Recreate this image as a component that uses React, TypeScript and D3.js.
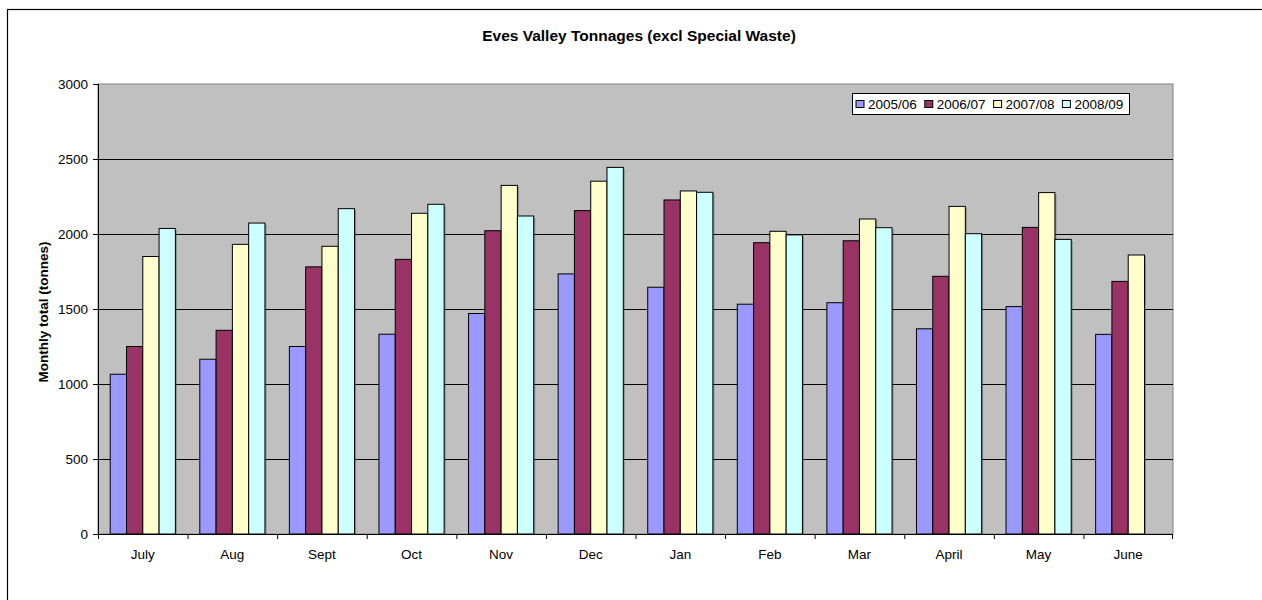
import React from 'react';
import * as d3 from 'd3';

const months = ['July', 'Aug', 'Sept', 'Oct', 'Nov', 'Dec', 'Jan', 'Feb', 'Mar', 'April', 'May', 'June'];
const seasons = ['2005/06', '2006/07', '2007/08', '2008/09'];
const colors = ['#9999FF', '#993366', '#FFFFCC', '#CCFFFF'];

const y0506 = [1065, 1165, 1250, 1332, 1470, 1734, 1645, 1532, 1542, 1368, 1516, 1331];
const y0607 = [1250, 1358, 1781, 1831, 2022, 2156, 2227, 1942, 1955, 1718, 2044, 1684];
const y0708 = [1850, 1931, 1918, 2138, 2324, 2352, 2287, 2018, 2100, 2184, 2276, 1860];
const y0809 = [2037, 2073, 2169, 2198, 2120, 2444, 2278, 1994, 2042, 2002, 1964, null];

const series = [y0506, y0607, y0708, y0809];
const yTicks = [0, 500, 1000, 1500, 2000, 2500, 3000];

const font = 'Arial, "Liberation Sans", sans-serif';

export default function App() {
  const W = 1262;
  const H = 600;
  const plot = { left: 98, right: 1173, top: 84, bottom: 534 };

  const x = d3.scaleBand<string>().domain(months).range([plot.left, plot.right]).paddingInner(0).paddingOuter(0);
  const step = x.bandwidth();
  const barW = step / 5.5;
  const groupOffset = (step - barW * 4) / 2;
  const y = d3.scaleLinear().domain([0, 3000]).range([plot.bottom, plot.top]);

  const legend = { x: 852, y: 93, w: 277, h: 21 };

  return (
    <svg width={W} height={H} style={{ position: 'absolute', left: 0, top: 0 }} fontFamily={font}>
      <rect x={0} y={0} width={W} height={H} fill="#fff" />
      <rect x={7.5} y={9.5} width={W + 10} height={H + 10} fill="none" stroke="#000" strokeWidth={1.2} />

      <text x={639} y={41} textAnchor="middle" fontSize={15.5} fontWeight="bold">
        Eves Valley Tonnages (excl Special Waste)
      </text>

      <rect x={plot.left} y={plot.top} width={plot.right - plot.left} height={plot.bottom - plot.top} fill="#C0C0C0" stroke="#808080" />

      {yTicks.filter((t) => t > 0 && t < 3000).map((t) => (
        <line key={'g' + t} x1={plot.left} x2={plot.right} y1={y(t) + 0.5} y2={y(t) + 0.5} stroke="#000" />
      ))}

      {series.map((vals, si) =>
        vals.map((v, mi) =>
          v == null ? null : (
            <g key={si + '-' + mi}>
              <rect
                x={x(months[mi])! + groupOffset + si * barW + 1.5}
                y={y(v) + 1.5}
                width={barW}
                height={plot.bottom - y(v) - 1}
                fill="#555"
                opacity={0.5}
              />
              <rect
                x={x(months[mi])! + groupOffset + si * barW}
                y={y(v)}
                width={barW}
                height={plot.bottom - y(v)}
                fill={colors[si]}
                stroke="#000"
                strokeWidth={1}
              />
            </g>
          )
        )
      )}

      <line x1={plot.left + 0.5} x2={plot.left + 0.5} y1={plot.top} y2={plot.bottom} stroke="#000" />
      <line x1={plot.left} x2={plot.right} y1={plot.bottom + 0.5} y2={plot.bottom + 0.5} stroke="#000" strokeWidth={1.2} />

      {yTicks.map((t) => (
        <g key={'t' + t}>
          <line x1={plot.left - 5} x2={plot.left} y1={y(t) + 0.5} y2={y(t) + 0.5} stroke="#000" />
          <text x={plot.left - 10} y={y(t) + 5} textAnchor="end" fontSize={13.5}>
            {t}
          </text>
        </g>
      ))}

      {months.map((m, i) => (
        <line key={'xt' + i} x1={x(m)! + 0.5} x2={x(m)! + 0.5} y1={plot.bottom} y2={plot.bottom + 5} stroke="#000" />
      ))}
      <line x1={plot.right - 0.5} x2={plot.right - 0.5} y1={plot.bottom} y2={plot.bottom + 5} stroke="#000" />

      {months.map((m) => (
        <text key={'xl' + m} x={x(m)! + step / 2} y={559} textAnchor="middle" fontSize={13.5}>
          {m}
        </text>
      ))}

      <text transform="translate(47.5,312) rotate(-90)" textAnchor="middle" fontSize={13.5} fontWeight="bold">
        Monthly total (tonnes)
      </text>

      <rect x={legend.x + 0.5} y={legend.y + 0.5} width={legend.w} height={legend.h} fill="#fff" stroke="#000" />
      {seasons.map((s, i) => (
        <g key={s} transform={`translate(${legend.x + 3.5 + i * 68.8},${legend.y + 7})`}>
          <rect x={0.5} y={0.5} width={8} height={7} fill={colors[i]} stroke="#000" />
          <text x={12.5} y={8.5} fontSize={13.5}>
            {s}
          </text>
        </g>
      ))}
    </svg>
  );
}
